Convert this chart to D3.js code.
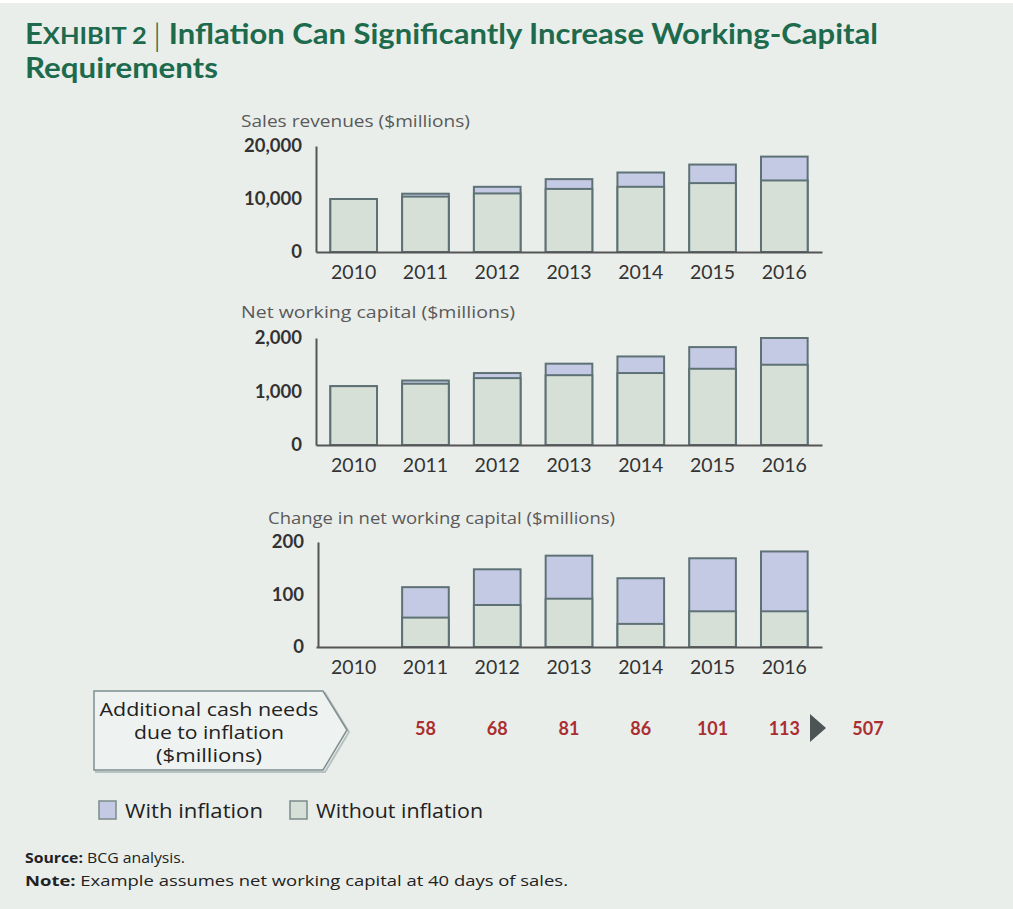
<!DOCTYPE html>
<html>
<head>
<meta charset="utf-8">
<script src="https://cdn.jsdelivr.net/npm/d3@7"></script>
<style>
  html, body { margin: 0; padding: 0; background: #e9eeeb; }
  svg { display: block; }
  text { font-family: Lato, "Open Sans", sans-serif; }
  .wide { font-family: "Open Sans", Lato, sans-serif; }
</style>
</head>
<body>
<div id="chart"></div>
<script>
const years = ["2010", "2011", "2012", "2013", "2014", "2015", "2016"];

const salesWith    = [10000, 11000, 12300, 13750, 15000, 16500, 18000];
const salesWithout = [10000, 10450, 11050, 11900, 12300, 13000, 13500];

const nwcWith    = [1100, 1205, 1345, 1520, 1655, 1830, 2000];
const nwcWithout = [1100, 1145, 1250, 1305, 1345, 1425, 1500];

// change in NWC, 2010 has no bar
const chgWith    = [null, 114, 148, 174, 131, 169, 182];
const chgWithout = [null, 56, 80, 92, 44, 68, 68];

const extraCash = [null, 58, 68, 81, 86, 101, 113];
const extraTotal = 507;

const salesTicks = [0, 10000, 20000];
const nwcTicks = [0, 1000, 2000];
const chgTicks = [0, 100, 200];

const colWith = "#c4c9e4";
const colWithout = "#d6e0d7";
const barStroke = "#5e7276";
const green = "#1d6a4c";

const W = 1013, H = 909;

const svg = d3.select("#chart").append("svg")
    .attr("width", W)
    .attr("height", H);

svg.append("rect").attr("width", W).attr("height", H).attr("fill", "#e9eeeb");
svg.append("rect").attr("width", W).attr("height", 3).attr("fill", "#ffffff");

// title
const t1 = svg.append("text")
    .attr("x", 25).attr("y", 44)
    .attr("fill", green)
    .attr("font-weight", 700)
    .attr("font-size", "28px");
t1.append("tspan").text("E");
t1.append("tspan").attr("font-size", "23px").text("XHIBIT 2 ");
t1.append("tspan").attr("font-weight", 300).attr("font-size", "31px").attr("dy", 2).text("|");
t1.append("tspan").attr("dy", -2).text(" Inflation Can Significantly Increase Working-Capital");
t1.attr("textLength", 853).attr("lengthAdjust", "spacingAndGlyphs");

svg.append("text")
    .attr("x", 25).attr("y", 78)
    .attr("fill", green)
    .attr("font-weight", 700)
    .attr("font-size", "28px")
    .attr("textLength", 193).attr("lengthAdjust", "spacingAndGlyphs")
    .text("Requirements");

// shared band scale
const x = d3.scaleBand()
    .domain(years)
    .range([316, 822])
    .paddingInner(0.35)
    .paddingOuter(0.2);

function panel(opts) {
    const y = d3.scaleLinear()
        .domain([0, opts.ticks[opts.ticks.length - 1]])
        .range([opts.base, opts.top]);

    const g = svg.append("g");

    // axis label
    g.append("text")
        .attr("class", "wide")
        .attr("x", opts.labelX).attr("y", opts.labelY)
        .attr("font-size", "15.5px")
        .attr("fill", "#5a5a5a")
        .attr("textLength", opts.labelLen).attr("lengthAdjust", "spacingAndGlyphs")
        .text(opts.label);

    const rows = years.map((yr, i) => ({ yr: yr, w: opts.withV[i], wo: opts.withoutV[i] }))
        .filter(d => d.w != null);

    // with-inflation bars (full height)
    g.selectAll(".bar-with")
        .data(rows)
        .enter()
        .append("rect")
        .attr("class", "bar-with")
        .attr("x", d => x(d.yr))
        .attr("y", d => y(d.w))
        .attr("width", x.bandwidth())
        .attr("height", d => y(0) - y(d.w))
        .attr("fill", colWith)
        .attr("stroke", barStroke)
        .attr("stroke-width", 2);

    // without-inflation bars on top
    g.selectAll(".bar-without")
        .data(rows)
        .enter()
        .append("rect")
        .attr("class", "bar-without")
        .attr("x", d => x(d.yr))
        .attr("y", d => y(d.wo))
        .attr("width", x.bandwidth())
        .attr("height", d => y(0) - y(d.wo))
        .attr("fill", colWithout)
        .attr("stroke", barStroke)
        .attr("stroke-width", 2);

    // y axis
    const ya = g.append("g")
        .attr("transform", `translate(${opts.axisX},0)`)
        .call(d3.axisLeft(y).tickValues(opts.ticks).tickSize(0).tickPadding(14)
            .tickFormat(d3.format(",")));
    ya.select(".domain").attr("stroke", "#555").attr("stroke-width", 2);
    ya.selectAll("text")
        .attr("font-family", "Lato, sans-serif")
        .attr("font-size", "18.5px")
        .attr("font-weight", 700)
        .attr("fill", "#333");

    // x axis
    const xa = g.append("g")
        .attr("transform", `translate(0,${y(0)})`)
        .call(d3.axisBottom(x).tickSize(0).tickPadding(13));
    xa.select(".domain").attr("stroke", "#555").attr("stroke-width", 2);
    xa.selectAll("text")
        .attr("font-family", "Lato, sans-serif")
        .attr("font-size", "19.5px")
        .attr("fill", "#333");

    return y;
}

panel({
    label: "Sales revenues ($millions)", labelX: 241, labelY: 127, labelLen: 229,
    ticks: salesTicks, base: 252, top: 146, axisX: 316,
    withV: salesWith, withoutV: salesWithout
});

panel({
    label: "Net working capital ($millions)", labelX: 241, labelY: 318, labelLen: 274,
    ticks: nwcTicks, base: 445, top: 338, axisX: 316,
    withV: nwcWith, withoutV: nwcWithout
});

panel({
    label: "Change in net working capital ($millions)", labelX: 268, labelY: 524, labelLen: 347,
    ticks: chgTicks, base: 647, top: 542, axisX: 318,
    withV: chgWith, withoutV: chgWithout
});

// callout arrow box
const box = svg.append("g");
const boxPath = "M94,691 L323,691 L347,730 L323,770 L94,770 Z";
box.append("path")
    .attr("d", boxPath)
    .attr("transform", "translate(2,2)")
    .attr("fill", "none")
    .attr("stroke", "#b8c2c0")
    .attr("stroke-width", 2);
box.append("path")
    .attr("d", boxPath)
    .attr("fill", "#eef2f0")
    .attr("stroke", "#7f8f90")
    .attr("stroke-width", 1.5);
const boxLines = [
    { s: "Additional cash needs", len: 219 },
    { s: "due to inflation", len: 150 },
    { s: "($millions)", len: 106 }
];
boxLines.forEach((l, i) => {
    box.append("text")
        .attr("class", "wide")
        .attr("x", 209).attr("y", 716 + i * 23)
        .attr("text-anchor", "middle")
        .attr("font-size", "18.5px")
        .attr("fill", "#222")
        .attr("textLength", l.len).attr("lengthAdjust", "spacingAndGlyphs")
        .text(l.s);
});

// additional cash values
svg.selectAll(".extra")
    .data(years.map((yr, i) => ({ yr: yr, v: extraCash[i] })).filter(d => d.v != null))
    .enter()
    .append("text")
    .attr("class", "extra")
    .attr("x", d => x(d.yr) + x.bandwidth() / 2)
    .attr("y", 735)
    .attr("text-anchor", "middle")
    .attr("font-size", "18px")
    .attr("font-weight", 700)
    .attr("fill", "#ab2e31")
    .text(d => d.v);

svg.append("path")
    .attr("d", "M810,714 L826,728 L810,742 Z")
    .attr("fill", "#4d5456");

svg.append("text")
    .attr("x", 868).attr("y", 735)
    .attr("text-anchor", "middle")
    .attr("font-size", "18px")
    .attr("font-weight", 700)
    .attr("fill", "#ab2e31")
    .text(extraTotal);

// legend
const legend = [
    { label: "With inflation", fill: colWith, x: 99, len: 138 },
    { label: "Without inflation", fill: colWithout, x: 290, len: 167 }
];
const lg = svg.selectAll(".legend")
    .data(legend)
    .enter()
    .append("g")
    .attr("class", "legend")
    .attr("transform", d => `translate(${d.x},801)`);
lg.append("rect")
    .attr("width", 17).attr("height", 18)
    .attr("fill", d => d.fill)
    .attr("stroke", "#7a8a8c")
    .attr("stroke-width", 1.5);
lg.append("text")
    .attr("class", "wide")
    .attr("x", 26).attr("y", 17)
    .attr("font-size", "19.5px")
    .attr("fill", "#222")
    .attr("textLength", d => d.len).attr("lengthAdjust", "spacingAndGlyphs")
    .text(d => d.label);

// source / note
const src = svg.append("text").attr("class", "wide").attr("x", 25).attr("y", 863)
    .attr("font-size", "15px").attr("fill", "#222")
    .attr("textLength", 160).attr("lengthAdjust", "spacingAndGlyphs");
src.append("tspan").attr("font-weight", 700).text("Source:");
src.append("tspan").text(" BCG analysis.");
const note = svg.append("text").attr("class", "wide").attr("x", 25).attr("y", 886)
    .attr("font-size", "15px").attr("fill", "#222")
    .attr("textLength", 543).attr("lengthAdjust", "spacingAndGlyphs");
note.append("tspan").attr("font-weight", 700).text("Note:");
note.append("tspan").text(" Example assumes net working capital at 40 days of sales.");
</script>
</body>
</html>
